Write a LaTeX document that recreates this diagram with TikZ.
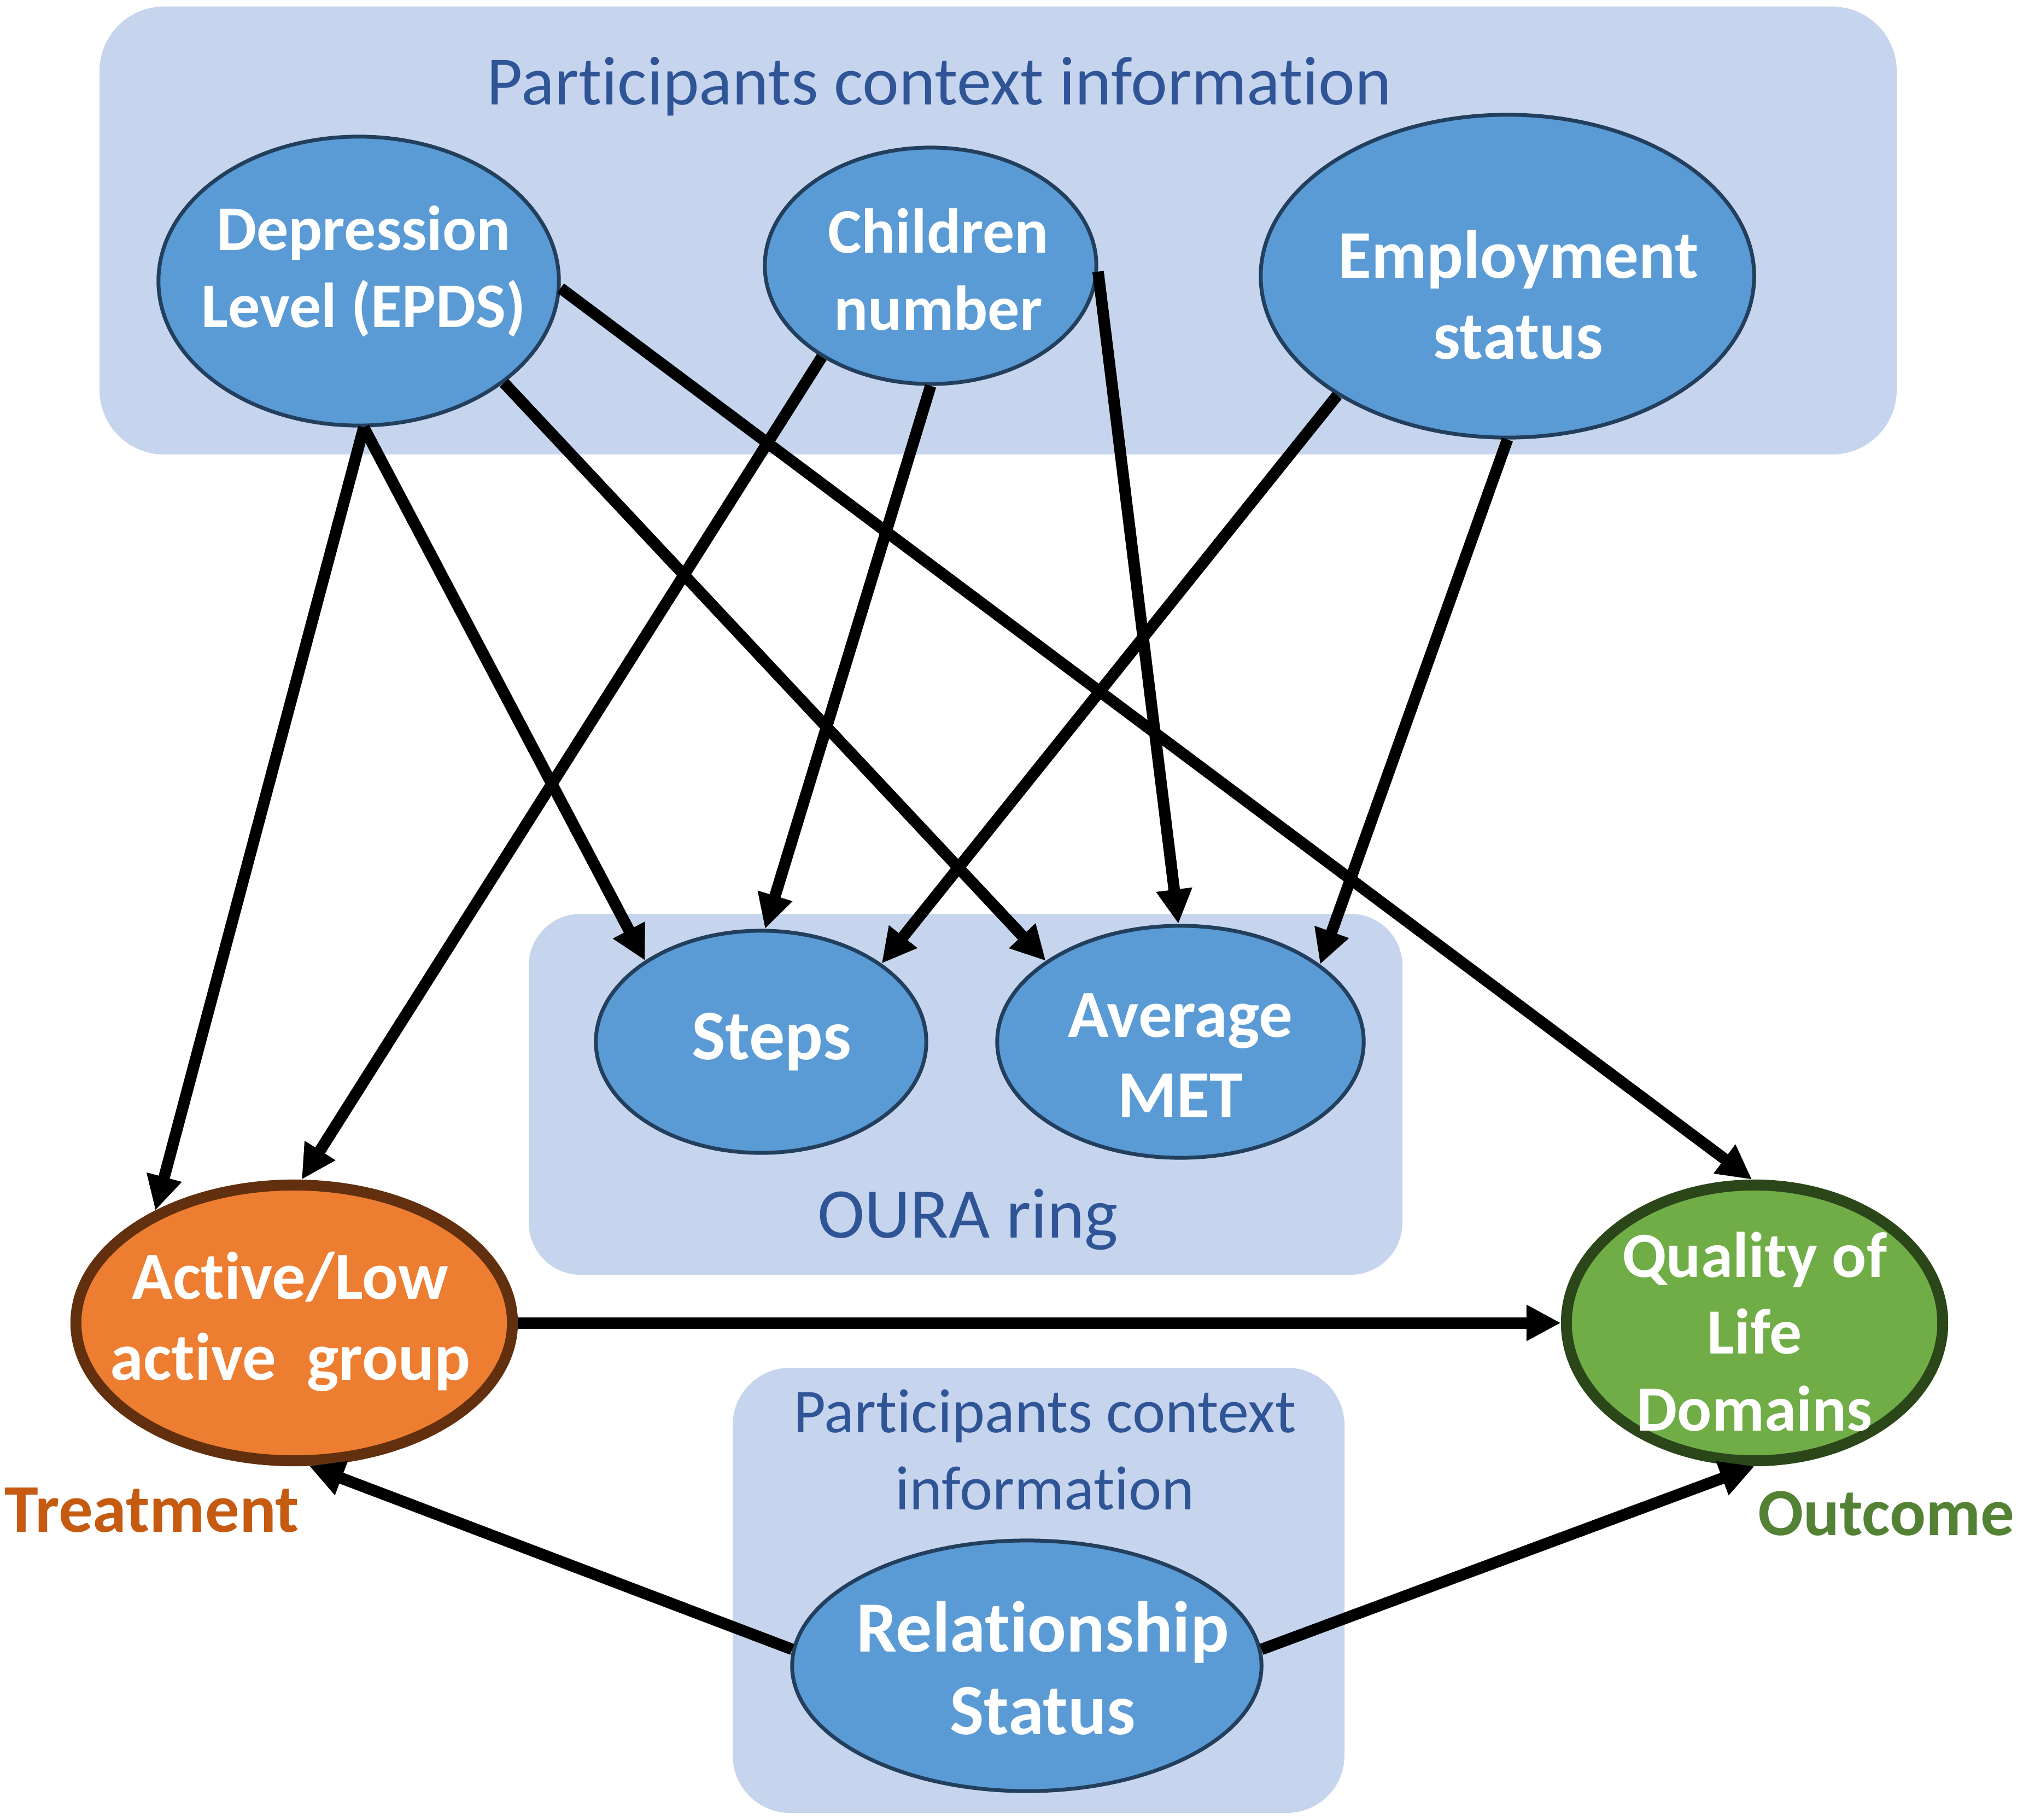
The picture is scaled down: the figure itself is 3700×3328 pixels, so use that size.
\documentclass[tikz,border=0pt]{standalone}
\usepackage{fontspec}
\setmainfont[Ligatures=NoCommon]{Carlito}
\usetikzlibrary{shapes.geometric,arrows.meta}
\definecolor{panel}{HTML}{C6D5ED}
\definecolor{nodeblue}{HTML}{5B9BD5}
\definecolor{nodeedge}{HTML}{223F5D}
\definecolor{titleblue}{HTML}{2F5597}
\definecolor{orfill}{HTML}{ED7D31}
\definecolor{oredge}{HTML}{62300E}
\definecolor{grfill}{HTML}{70AD47}
\definecolor{gredge}{HTML}{2B471A}
\definecolor{treat}{HTML}{C55A11}
\definecolor{outc}{HTML}{548235}
\tikzset{
  panelbox/.style={fill=panel, draw=none},
  ell/.style={ellipse, inner sep=0pt, fill=nodeblue, draw=nodeedge, line width=0.07cm},
  lbl/.style={text=white, font=\fontsize{33}{40}\selectfont\bfseries, align=center, inner sep=0pt},
  ttl/.style={text=titleblue, align=center, inner sep=0pt},
  arr/.style={line width=0.21cm, -{Triangle[length=0.63cm, width=0.62cm]}},
}
\begin{document}
\begin{tikzpicture}[x=0.01cm, y=-0.01cm]
\useasboundingbox (0,0) rectangle (3700,3328);
% panels
\fill[panelbox, rounded corners=1.18cm] (182,12) rectangle (3469,831);
\fill[panelbox, rounded corners=0.95cm] (967,1671) rectangle (2565,2331);
\fill[panelbox, rounded corners=1.05cm] (1340,2501) rectangle (2459,3315);
\node[ttl, font=\fontsize{36}{43}\selectfont] (t1) at (1718,158) {Participants context information};
\node[ttl, font=\fontsize{37}{44}\selectfont] (t2) at (1770,2230) {OURA ring};
\node[ttl, font=\fontsize{32.5}{40}\selectfont] (t3) at (1911,2651) {Participants context\\information};
% ellipses
\node[ell, minimum width=7.32cm, minimum height=5.28cm] (dep) at (656,514) {};
\node[ell, minimum width=6.06cm, minimum height=4.32cm] (chi) at (1702,486) {};
\node[ell, minimum width=9.02cm, minimum height=5.90cm] (emp) at (2757,505) {};
\node[ell, minimum width=6.04cm, minimum height=4.06cm] (stp) at (1392,1905) {};
\node[ell, minimum width=6.70cm, minimum height=4.24cm] (met) at (2159,1905) {};
\node[ell, minimum width=8.58cm, minimum height=4.58cm] (rel) at (1878,3046) {};
\node[ellipse, inner sep=0pt, fill=orfill, draw=oredge, line width=0.2cm, minimum width=7.98cm, minimum height=5.04cm] (act) at (538,2419) {};
\node[ellipse, inner sep=0pt, fill=grfill, draw=gredge, line width=0.2cm, minimum width=6.88cm, minimum height=5.04cm] (qol) at (3209,2419) {};
% labels
\node[lbl] (depT) at (665,496) {Depression\\Level (EPDS)};
\node[lbl] (chiT) at (1716,493) {Children\\number};
\node[lbl, font=\fontsize{35.5}{42}\selectfont\bfseries] (empT) at (2777,539) {Employment\\status};
\node[lbl, font=\fontsize{37}{44}\selectfont\bfseries] (stpT) at (1411,1905) {Steps};
\node[lbl, font=\fontsize{35}{42}\selectfont\bfseries] (metT) at (2159,1930) {Average\\MET};
\node[lbl, font=\fontsize{35}{42}\selectfont\bfseries] (actT) at (531,2417) {Active/Low\\active\ \ group};
\node[lbl, font=\fontsize{33.5}{40}\selectfont\bfseries] (qolT) at (3209,2435) {Quality of\\Life\\Domains};
\node[lbl, font=\fontsize{37.5}{43}\selectfont\bfseries] (relT) at (1907,3050) {Relationship\\Status};
\node[lbl, text=treat, font=\fontsize{35.5}{42}\selectfont\bfseries] (trt) at (278,2761) {Treatment};
\node[lbl, text=outc, font=\fontsize{35}{42}\selectfont\bfseries] (out) at (3450,2768) {Outcome};
% arrows
\draw[arr] (dep.-88) -- (act.141);
\draw[arr] (dep.-88) -- (stp.145);
\draw[arr] (dep.-35.6) -- (met.149);
\draw[arr] (dep.-2) -- (qol.91.5);
\draw[arr] (chi.-140) -- (act.87.4);
\draw[arr] (chi.-90) -- (stp.88.5);
\draw[arr] (chi.-2) -- (met.91.4);
\draw[arr] (emp.-145.7) -- (stp.33.3);
\draw[arr] (emp.-90) -- (met.29.3);
\draw[arr] (act.east) -- (qol.west);
\draw[arr] (rel.176) -- (act.-84);
\draw[arr] (rel.4) -- (qol.-90);
\end{tikzpicture}
\end{document}
